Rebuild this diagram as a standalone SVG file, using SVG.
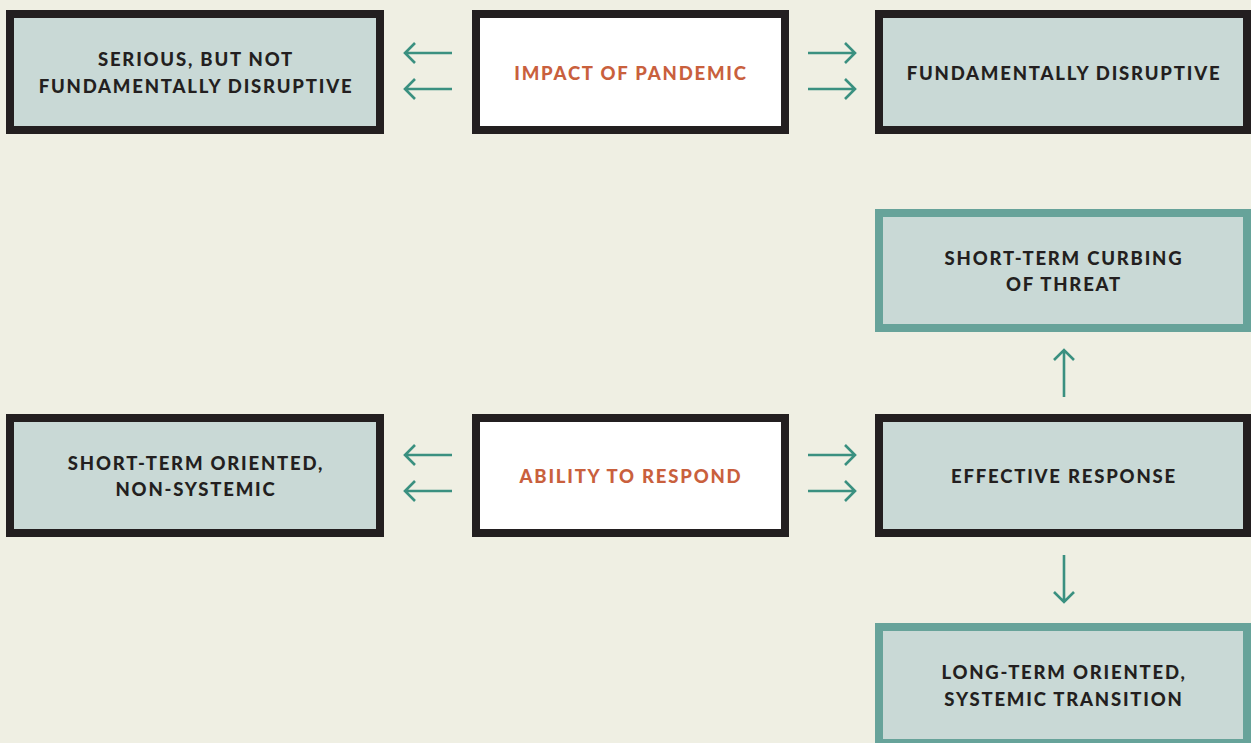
<svg xmlns="http://www.w3.org/2000/svg" width="1251" height="743" viewBox="0 0 1251 743">
<defs>
<style>
.box{fill:#c9d9d6;stroke:#231f20;stroke-width:8}
.core{fill:#ffffff;stroke:#231f20;stroke-width:8}
.out{fill:#c9d9d6;stroke:#67a39a;stroke-width:8}
.t{font-family:Lato,"Noto Sans",sans-serif;font-weight:900;font-size:18.5px;letter-spacing:1.8px;fill:#231f20;text-anchor:middle}
.o{fill:#c9603d}
.arr{fill:none;stroke:#3a9080;stroke-width:2.6}
</style>
</defs>
<rect width="1251" height="743" fill="#efefe3"/>
<g id="serious">
<rect class="box" x="10" y="14" width="370" height="116"/>
<text class="t" x="196" y="66">SERIOUS, BUT NOT</text>
<text class="t" x="196" y="93">FUNDAMENTALLY DISRUPTIVE</text>
</g>
<g id="impact">
<rect class="core" x="476" y="14" width="309" height="116"/>
<text class="t o" x="631" y="80">IMPACT OF PANDEMIC</text>
</g>
<g id="fundamental">
<rect class="box" x="879" y="14" width="368" height="116"/>
<text class="t" x="1064" y="80">FUNDAMENTALLY DISRUPTIVE</text>
</g>
<g id="curbing">
<rect class="out" x="879" y="213" width="368" height="115"/>
<text class="t" x="1064" y="265">SHORT-TERM CURBING</text>
<text class="t" x="1064" y="291">OF THREAT</text>
</g>
<g id="shortterm">
<rect class="box" x="10" y="418" width="370" height="115"/>
<text class="t" x="196" y="470">SHORT-TERM ORIENTED,</text>
<text class="t" x="196" y="496">NON-SYSTEMIC</text>
</g>
<g id="ability">
<rect class="core" x="476" y="418" width="309" height="115"/>
<text class="t o" x="631" y="483">ABILITY TO RESPOND</text>
</g>
<g id="effective">
<rect class="box" x="879" y="418" width="368" height="115"/>
<text class="t" x="1064" y="483">EFFECTIVE RESPONSE</text>
</g>
<g id="longterm">
<rect class="out" x="879" y="627" width="368" height="116"/>
<text class="t" x="1064" y="679">LONG-TERM ORIENTED,</text>
<text class="t" x="1064" y="706">SYSTEMIC TRANSITION</text>
</g>
<g id="connectors">
<path class="arr" d="M452 53H405M415 43L405 53L415 63"/>
<path class="arr" d="M452 89H405M415 79L405 89L415 99"/>
<path class="arr" d="M808 53H855M845 43L855 53L845 63"/>
<path class="arr" d="M808 89H855M845 79L855 89L845 99"/>
<path class="arr" d="M452 455H405M415 445L405 455L415 465"/>
<path class="arr" d="M452 491H405M415 481L405 491L415 501"/>
<path class="arr" d="M808 455H855M845 445L855 455L845 465"/>
<path class="arr" d="M808 491H855M845 481L855 491L845 501"/>
<path class="arr" d="M1064 397V350M1054 360L1064 350L1074 360"/>
<path class="arr" d="M1064 555V602M1054 592L1064 602L1074 592"/>
</g>
</svg>
